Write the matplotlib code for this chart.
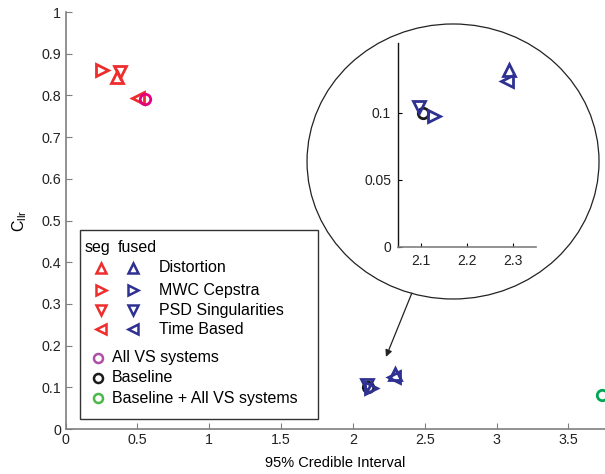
import matplotlib
matplotlib.use('Agg')
import matplotlib.pyplot as plt
from matplotlib.patches import Ellipse, Rectangle

plt.rcParams['font.family'] = ['Liberation Sans', 'DejaVu Sans']

# feature set names, marker per feature set
features = ['Distortion', 'MWC Cepstra', 'PSD Singularities', 'Time Based']
markers = ['^', '>', 'v', '<']

# segmental systems (red)
seg_ci = [0.355, 0.256, 0.38, 0.507]
seg_cllr = [0.845, 0.862, 0.857, 0.795]

# fused systems (blue)
fused_ci = [2.291, 2.129, 2.095, 2.286]
fused_cllr = [0.132, 0.0977, 0.1045, 0.124]

# combined systems
combo_names = ['All VS systems', 'Baseline', 'Baseline + All VS systems']
combo_ci = [0.553, 2.104, 3.73]
combo_cllr = [0.792, 0.100, 0.0815]

RED = '#EE2D2D'
BLUE = '#2E3192'
combo_colors = ['#E5007D', '#1A1A1A', '#00A651']
combo_legend_colors = ['#B04FA8', '#1A1A1A', '#4DB848']
combo_z = [4, 1, 4]

SPINE = '#7F7F7F'

fig = plt.figure(figsize=(6.05, 4.74), dpi=100)
ax = fig.add_axes([0.1083, 0.0949, 0.8917, 0.8797])

for m, x, y in zip(markers, seg_ci, seg_cllr):
    ax.plot(x, y, m, ms=8.5, mew=2, mfc='none', mec=RED, zorder=3)
for m, x, y in zip(markers, fused_ci, fused_cllr):
    ax.plot(x, y, m, ms=8.5, mew=2, mfc='none', mec=BLUE, zorder=3)
for c, z, x, y in zip(combo_colors, combo_z, combo_ci, combo_cllr):
    ax.plot(x, y, 'o', ms=7.5, mew=2, mfc='none', mec=c, zorder=z)

ax.set_xlim(0, 3.754)
ax.set_ylim(0, 1)
ax.set_xticks([0, 0.5, 1, 1.5, 2, 2.5, 3, 3.5])
ax.set_xticklabels(['0', '0.5', '1', '1.5', '2', '2.5', '3', '3.5'])
ax.set_yticks([0, 0.1, 0.2, 0.3, 0.4, 0.5, 0.6, 0.7, 0.8, 0.9, 1])
ax.set_yticklabels(['0', '0.1', '0.2', '0.3', '0.4', '0.5', '0.6', '0.7', '0.8', '0.9', '1'])
ax.tick_params(direction='in', length=4, width=0.8, color=SPINE, labelsize=10.3,
               labelcolor='#222222', pad=3)
for s in ['top', 'right']:
    ax.spines[s].set_visible(False)
for s in ['left', 'bottom']:
    ax.spines[s].set_color(SPINE)
    ax.spines[s].set_linewidth(1.2)
ax.set_xlabel('95% Credible Interval', fontsize=10.5, labelpad=6)
ax.set_ylabel(r'C$_{\mathregular{llr}}$', fontsize=11.5, labelpad=9)

# hand-made legend box
ax.add_patch(Rectangle((0.0269, 0.024), 0.4411, 0.453, transform=ax.transAxes,
                       fill=False, ec='#333333', lw=1.0, clip_on=False, zorder=5))
ax.text(0.0361, 0.4365, 'seg', transform=ax.transAxes, fontsize=11.5, va='center')
ax.text(0.0973, 0.4365, 'fused', transform=ax.transAxes, fontsize=11.5, va='center')
row_y = [0.3868, 0.3333, 0.2854, 0.2398]
for m, name, ry in zip(markers, features, row_y):
    ax.plot(0.0658, ry, m, ms=7.5, mew=1.8, mfc='none', mec=RED,
            transform=ax.transAxes, clip_on=False)
    ax.plot(0.1251, ry, m, ms=7.5, mew=1.8, mfc='none', mec=BLUE,
            transform=ax.transAxes, clip_on=False)
    ax.text(0.1733, ry, name, transform=ax.transAxes, fontsize=11.5, va='center')
combo_y = [0.171, 0.123, 0.0736]
for c, name, ry in zip(combo_legend_colors, combo_names, combo_y):
    ax.plot(0.0597, ry, 'o', ms=6.5, mew=1.8, mfc='none', mec=c,
            transform=ax.transAxes, clip_on=False)
    ax.text(0.0856, ry, name, transform=ax.transAxes, fontsize=11.5, va='center')

# zoom circle with arrow pointing at the fused cluster
fig.patches.append(Ellipse((0.7488, 0.6593), 0.4826, 0.5802, transform=fig.transFigure,
                           fill=False, ec='#222222', lw=0.9))
ax.annotate('', xy=(2.23, 0.173), xytext=(2.41, 0.326),
            arrowprops=dict(arrowstyle='-|>', color='#222222', lw=0.9,
                            mutation_scale=10, shrinkA=0, shrinkB=0))

# inset zoomed on the fused systems
ins = fig.add_axes([0.6579, 0.4795, 0.2281, 0.4297])
ins.plot(combo_ci[1], combo_cllr[1], 'o', ms=7.5, mew=2, mfc='none', mec=combo_colors[1])
for m, x, y in zip(markers, fused_ci, fused_cllr):
    ins.plot(x, y, m, ms=8.5, mew=2, mfc='none', mec=BLUE)
ins.set_xlim(2.05, 2.35)
ins.set_ylim(0, 0.152)
ins.set_xticks([2.1, 2.2, 2.3])
ins.set_xticklabels(['2.1', '2.2', '2.3'])
ins.set_yticks([0, 0.05, 0.1])
ins.set_yticklabels(['0', '0.05', '0.1'])
ins.tick_params(direction='in', length=3, width=0.8, labelsize=10, labelcolor='#222222', pad=5)
ins.patch.set_alpha(0)
for s in ['top', 'right']:
    ins.spines[s].set_visible(False)
ins.spines['left'].set_color('#111111')
ins.spines['bottom'].set_color(SPINE)
ins.spines['left'].set_linewidth(1.0)
ins.spines['bottom'].set_linewidth(1.2)

plt.savefig('out.png', dpi=100)
